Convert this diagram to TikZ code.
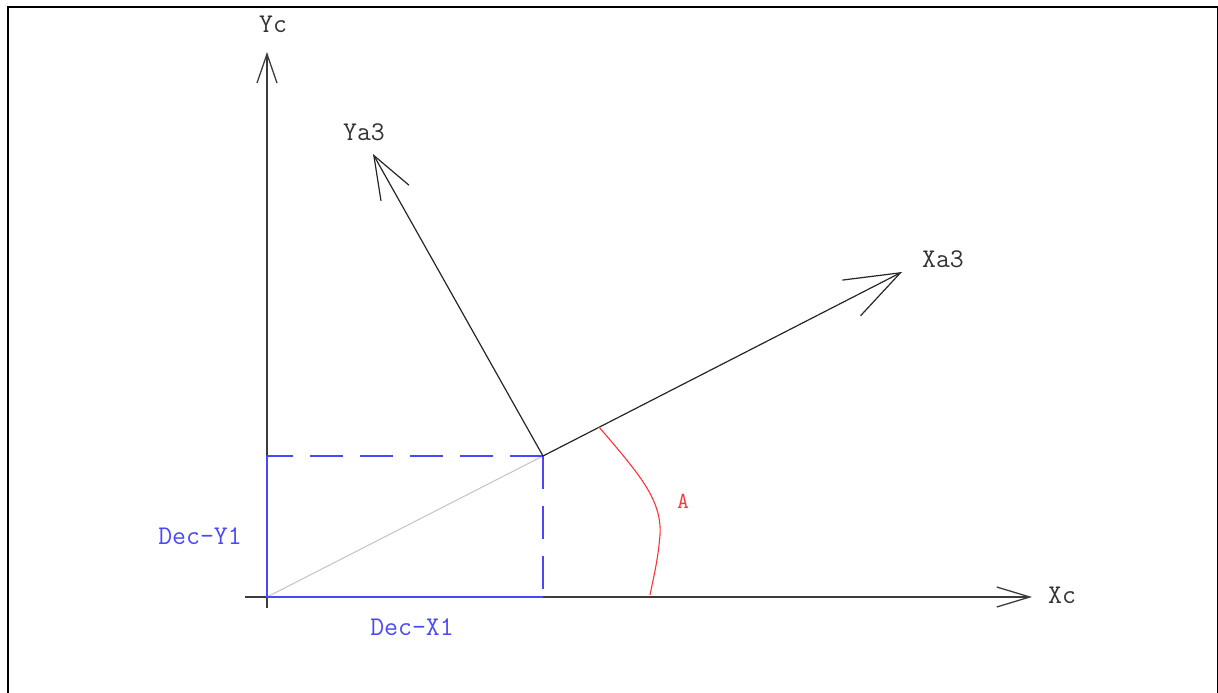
\documentclass[tikz,border=0pt]{standalone}
\usepackage{fontspec}
\usetikzlibrary{arrows.meta}
\definecolor{ablue}{RGB}{72,72,255}
\definecolor{ared}{RGB}{255,50,50}
\definecolor{agrey}{RGB}{195,195,195}
\definecolor{adark}{RGB}{60,60,60}
\begin{document}
\begin{tikzpicture}[x=1pt,y=-1pt,
  lbl/.style={font=\ttfamily\fontsize{27}{27}\selectfont, inner sep=0pt, anchor=base},
  axisline/.style={draw=adark, line width=1.3pt},
  vecline/.style={draw=black!85, line width=1.2pt},
  projsolid/.style={draw=ablue, line width=1.5pt},
  projdash/.style={draw=ablue, line width=1.5pt, dash pattern=on 33pt off 17pt},
  anglearc/.style={draw=ared, line width=1.1pt}]
\useasboundingbox (0,0) rectangle (1218,693);
\draw[line width=2pt] (7.5,693) -- (7.5,7.5) -- (1217.5,7.5) -- (1217.5,693);
% coordinates
\coordinate (O) at (267,597);
\coordinate (P) at (543,456);
\coordinate (Xs) at (245,597);
\coordinate (Xe) at (1032,597);
\coordinate (Ys) at (267,608);
\coordinate (Ye) at (267,52);
\coordinate (XaE) at (902,272);
\coordinate (YaE) at (373,154);
\coordinate (Px) at (543,597);
\coordinate (Py) at (267,456);
\coordinate (A1) at (599,427);
\coordinate (A2) at (650,595);
% axes
\draw[axisline, -{Straight Barb[length=33pt,width=20pt]}] (Xs) -- (Xe);
\draw[axisline, -{Straight Barb[length=29pt,width=20pt]}] (Ys) -- (Ye);
% grey diagonal
\draw[draw=agrey, line width=1pt] (O) -- (P);
% projections
\draw[projsolid] (Py) -- (O) -- (Px);
\draw[projdash] (P) -- (Py);
\draw[projdash] (P) -- (Px);
% rotated frame
\draw[vecline, -{Straight Barb[length=55pt,width=40pt]}] (P) -- (XaE);
\draw[vecline, -{Straight Barb[length=43pt,width=32pt]}] (P) -- (YaE);
% angle
\draw[anglearc] (A1) .. controls (640,475) and (662,500) .. (660,535) .. controls (658,560) and (654,575) .. (A2);
% labels
\node[lbl, text=black!80] (lYc) at (273,33) {Yc};
\node[lbl, text=black!80] (lYa) at (364,140) {Ya3};
\node[lbl, text=black!80] (lXa) at (943,267) {Xa3};
\node[lbl, text=black!80] (lXc) at (1062,603) {Xc};
\node[lbl, text=ared, font=\ttfamily\fontsize{23}{23}\selectfont] (lA) at (683,508) {A};
\node[lbl, text=ablue] (lDY) at (200,544) {Dec-Y1};
\node[lbl, text=ablue] (lDX) at (412,635) {Dec-X1};
\end{tikzpicture}
\end{document}
